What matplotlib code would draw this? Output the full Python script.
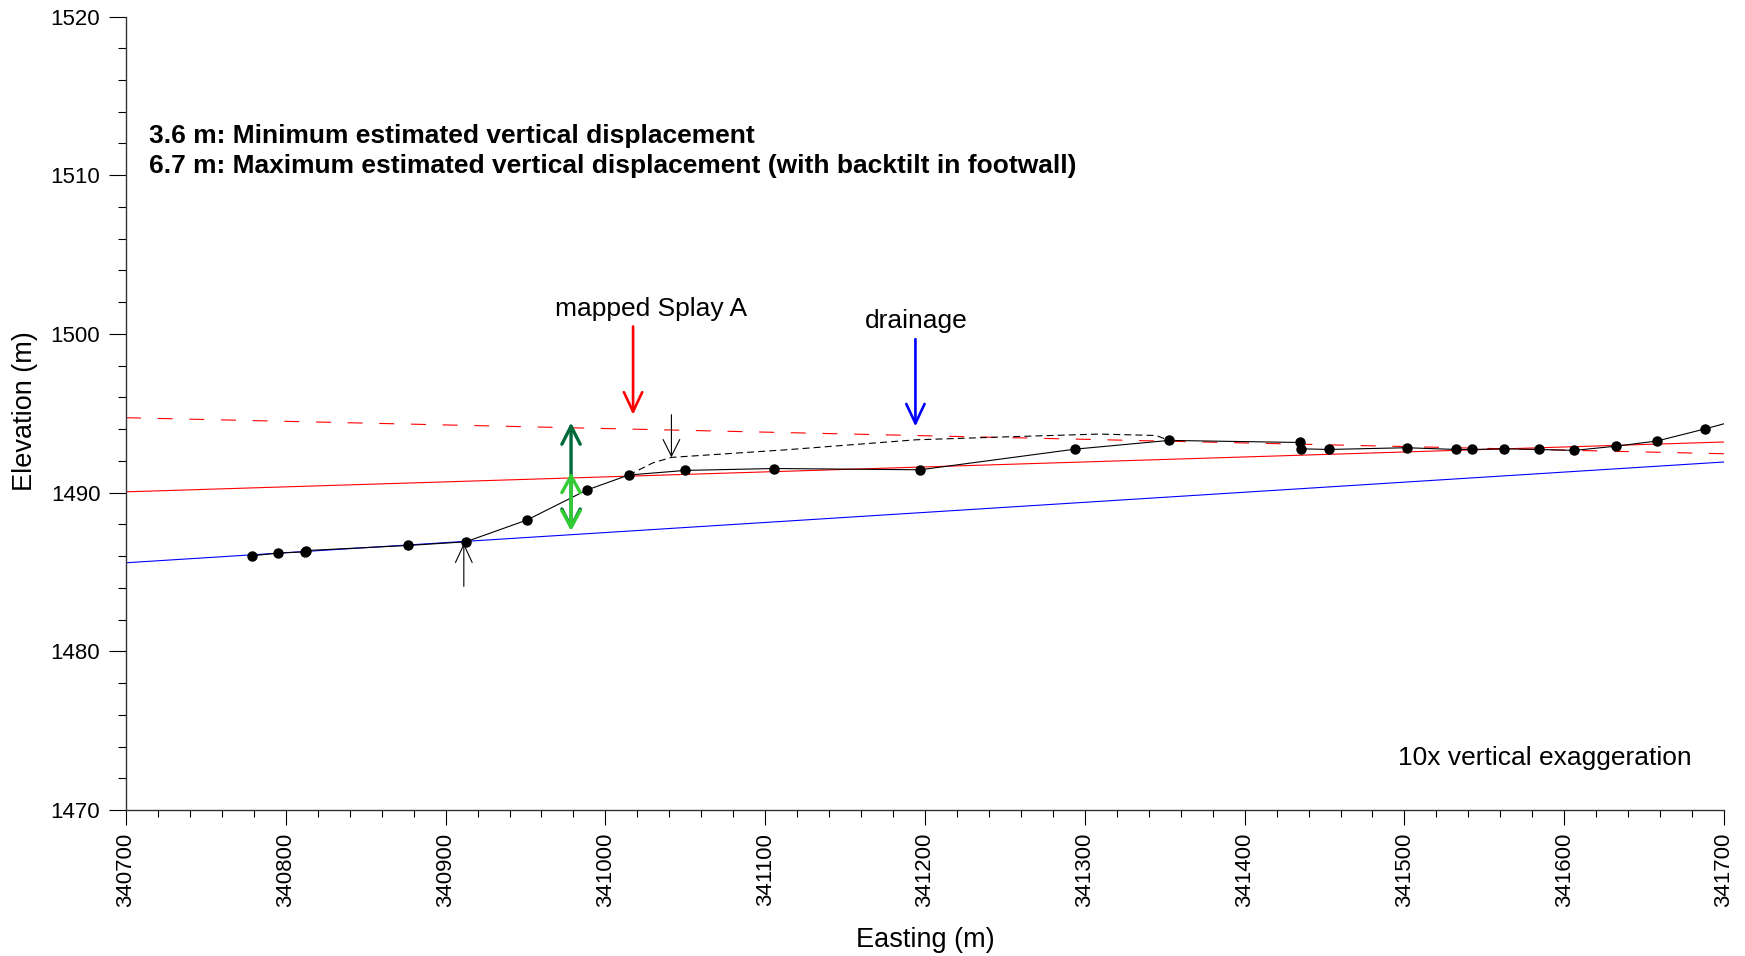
import numpy as np
import matplotlib
matplotlib.use("Agg")
import matplotlib.pyplot as plt
from matplotlib.ticker import MultipleLocator, FormatStrFormatter


output_file = "out.png"

# surveyed profile points (easting m, elevation m)
profile_easting = [
    340779.0, 340794.9, 340812.3, 340812.9, 340876.4, 340912.6,
    340950.8, 340988.3, 341014.6, 341050.0, 341105.4, 341197.0,
    341293.9, 341352.7, 341434.6, 341435.4, 341452.8, 341501.3,
    341532.4, 341542.2, 341562.6, 341584.1, 341606.2, 341632.6,
    341657.9, 341688.3,
]
profile_elev = [
    1486.02, 1486.19, 1486.27, 1486.35, 1486.67, 1486.90,
    1488.27, 1490.16, 1491.11, 1491.40, 1491.52, 1491.44,
    1492.74, 1493.29, 1493.16, 1492.76, 1492.72, 1492.83,
    1492.72, 1492.72, 1492.76, 1492.72, 1492.66, 1492.93,
    1493.25, 1494.02,
]

# profile continues to the edge of the section without a survey point
profile_end_easting = 341700.0
profile_end_elev = 1494.34

# projected surfaces
hangingwall_easting = [340700.0, 341700.0]
hangingwall_elev = [1490.05, 1493.19]

footwall_tilt_easting = [340700.0, 341700.0]
footwall_tilt_elev = [1494.72, 1492.45]

drainage_easting = [340700.0, 341700.0]
drainage_elev = [1485.58, 1491.93]

# inferred original surface before erosion
inferred_easting = [
    341014.6, 341029.8, 341041.3, 341113.2, 341194.5,
    341259.0, 341309.1, 341344.6, 341352.7,
]
inferred_elev = [
    1491.11, 1491.88, 1492.22, 1492.70, 1493.33,
    1493.54, 1493.69, 1493.60, 1493.29,
]

# scarp base / crest markers (x, tail elev, tip elev)
scarp_base = (340911.4, 1484.09, 1486.82)
scarp_crest = (341041.3, 1494.91, 1492.22)

splay_arrow = (341017.3, 1500.47, 1494.91)
drainage_arrow = (341194.0, 1499.67, 1494.17)

# vertical displacement arrows (x, bottom, top)
max_disp = (340978.5, 1487.60, 1494.42)
min_disp = (340978.5, 1487.60, 1491.27)

summary_lines = [
    "3.6 m: Minimum estimated vertical displacement",
    "6.7 m: Maximum estimated vertical displacement (with backtilt in footwall)",
]


def draw_arrow(ax, x, y_tail, y_tip, color, lw, style, hl, hw):
    ax.annotate(
        "",
        xy=(x, y_tip),
        xytext=(x, y_tail),
        arrowprops=dict(
            arrowstyle=style + ",head_length=" + str(hl) + ",head_width=" + str(hw),
            color=color,
            lw=lw,
            shrinkA=0,
            shrinkB=0,
            mutation_scale=20,
        ),
        zorder=6,
    )


def main():
    plt.rcParams["font.family"] = ["Liberation Sans", "DejaVu Sans"]
    plt.rcParams["lines.scale_dashes"] = False

    fig = plt.figure(
        figsize=(17.45, 9.56),
        dpi=100,
    )
    ax = fig.add_axes([0.0722, 0.1527, 0.9158, 0.8300])

    ax.plot(
        drainage_easting,
        drainage_elev,
        color="#0000ff",
        lw=0.8,
        zorder=2,
    )
    ax.plot(
        hangingwall_easting,
        hangingwall_elev,
        color="#ff0000",
        lw=0.8,
        zorder=2,
    )
    ax.plot(
        footwall_tilt_easting,
        footwall_tilt_elev,
        color="#ff0000",
        lw=0.8,
        dashes=(10.8, 12.0),
        zorder=2,
    )
    ax.plot(
        inferred_easting,
        inferred_elev,
        color="black",
        lw=0.8,
        dashes=(5.0, 3.0),
        zorder=3,
    )

    line_x = list(profile_easting) + [profile_end_easting]
    line_y = list(profile_elev) + [profile_end_elev]
    ax.plot(
        line_x,
        line_y,
        color="black",
        lw=0.8,
        zorder=4,
    )
    ax.plot(
        profile_easting,
        profile_elev,
        linestyle="",
        marker="o",
        markersize=6.5,
        color="black",
        zorder=5,
    )

    draw_arrow(ax, scarp_base[0], scarp_base[1], scarp_base[2], "black", 0.8, "->", 0.65, 0.3)
    draw_arrow(ax, scarp_crest[0], scarp_crest[1], scarp_crest[2], "black", 0.8, "->", 0.6, 0.3)
    draw_arrow(ax, splay_arrow[0], splay_arrow[1], splay_arrow[2], "#ff0000", 1.9, "->", 0.7, 0.33)
    draw_arrow(ax, drainage_arrow[0], drainage_arrow[1], drainage_arrow[2], "#0000ff", 1.9, "->", 0.7, 0.33)
    draw_arrow(ax, max_disp[0], max_disp[1], max_disp[2], "#006a3a", 2.4, "<->", 0.65, 0.33)
    draw_arrow(ax, min_disp[0], min_disp[1], min_disp[2], "#33cc33", 2.4, "<->", 0.6, 0.33)

    ax.text(
        341028.6,
        1501.15,
        "mapped Splay A",
        ha="center",
        va="baseline",
        fontsize=19,
    )
    ax.text(
        341194.3,
        1500.37,
        "drainage",
        ha="center",
        va="baseline",
        fontsize=19,
    )
    ax.text(
        341679.6,
        1472.84,
        "10x vertical exaggeration",
        ha="right",
        va="baseline",
        fontsize=19,
    )
    ax.text(
        340714.2,
        1512.04,
        summary_lines[0],
        ha="left",
        va="baseline",
        fontsize=19,
        fontweight="bold",
    )
    ax.text(
        340714.2,
        1510.16,
        summary_lines[1],
        ha="left",
        va="baseline",
        fontsize=19,
        fontweight="bold",
    )

    ax.set_xlim(340700, 341700)
    ax.set_ylim(1470, 1520)

    ax.xaxis.set_major_locator(MultipleLocator(100))
    ax.xaxis.set_minor_locator(MultipleLocator(20))
    ax.yaxis.set_major_locator(MultipleLocator(10))
    ax.yaxis.set_minor_locator(MultipleLocator(2))
    ax.xaxis.set_major_formatter(FormatStrFormatter("%d"))
    ax.yaxis.set_major_formatter(FormatStrFormatter("%d"))

    for side in ["top", "right"]:
        ax.spines[side].set_visible(False)
    for side in ["left", "bottom"]:
        ax.spines[side].set_color("#333333")
        ax.spines[side].set_linewidth(1.0)

    ax.tick_params(axis="x", which="major", direction="out", length=11, width=0.8, pad=5.5, labelsize=16, labelrotation=90, colors="black")
    ax.tick_params(axis="x", which="minor", direction="out", length=5, width=0.8)
    ax.tick_params(axis="y", which="major", direction="out", length=12, width=0.8, pad=6.5, labelsize=16, colors="black")
    ax.tick_params(axis="y", which="minor", direction="out", length=6, width=0.8)

    ax.set_xlabel("Easting (m)", fontsize=19.5, va="center")
    ax.xaxis.set_label_coords(0.5, -0.164)
    ax.set_ylabel("Elevation (m)", fontsize=19.5, va="center")
    ax.yaxis.set_label_coords(-0.0629, 0.503)

    fig.savefig(output_file, dpi=100)


if __name__ == "__main__":
    main()
